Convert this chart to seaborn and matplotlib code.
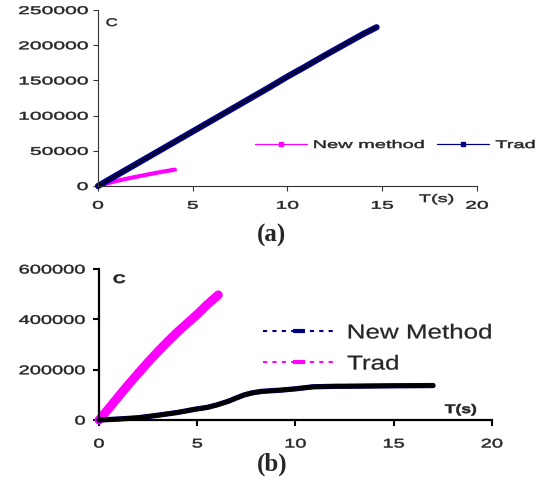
import numpy as np
import matplotlib
matplotlib.use('Agg')
import matplotlib.pyplot as plt
import matplotlib.patheffects as pe
from matplotlib.lines import Line2D
from matplotlib.transforms import Affine2D
import seaborn as sns

# (a) podaci
t_a_new = [0, 0.5, 1, 1.5, 2, 2.5, 3, 3.5, 4.06]
c_a_new = [0, 3800, 7300, 10300, 13000, 15700, 18300, 20800, 23200]
t_a_trad = [0, 1, 2, 3, 4, 5, 6, 7, 8, 9, 10, 11, 12, 13, 14, 14.7]
c_a_trad = [0, 15500, 31000, 46500, 62000, 77500, 93000, 108500, 124000,
            139500, 155500, 170500, 186000, 201000, 216000, 225500]

# (b) podaci
t_b_new = [0, 1, 2, 2.3, 3, 4, 4.9, 5.5, 6, 6.6, 7, 7.4, 7.8, 8.3, 9.3, 10,
           10.9, 12, 12.9, 15, 17]
c_b_new = [0, 4000, 9000, 12000, 19000, 30000, 43000, 50000, 60000, 75000,
           88000, 100000, 108000, 114000, 119000, 124000, 132000, 134000,
           134500, 136000, 137000]
t_b_trad = [0, 0.5, 1, 1.5, 2, 2.5, 3, 3.5, 4, 4.5, 5, 5.5, 6.07]
c_b_trad = [0, 46000, 94000, 141000, 186000, 230000, 272000, 312000, 350000,
            385000, 420000, 458000, 497000]

x_ticks = [0, 5, 10, 15, 20]
y_ticks_a = [0, 50000, 100000, 150000, 200000, 250000]
y_ticks_b = [0, 200000, 400000, 600000]

MAGENTA = '#FF00FF'
NAVY = '#000080'


class Wide(pe.AbstractPathEffect):
    """Horizontally stretched text (the original figure has wide glyphs)."""
    def __init__(self, sx, anchor='left', stroke=0.35):
        super().__init__()
        self.sx = sx
        self.anchor = anchor
        self.stroke = stroke

    def draw_path(self, renderer, gc, tpath, affine, rgbFace=None):
        ext = tpath.get_extents()
        x0 = {'left': ext.x0, 'right': ext.x1,
              'center': (ext.x0 + ext.x1) / 2}[self.anchor]
        t = Affine2D().translate(-x0, 0).scale(self.sx, 1).translate(x0, 0) + affine
        gc0 = renderer.new_gc()
        gc0.copy_properties(gc)
        gc0.set_linewidth(self.stroke)
        gc0.set_foreground(rgbFace)
        renderer.draw_path(gc0, tpath, t, rgbFace)
        gc0.restore()


sns.set_style('ticks')
plt.rcParams['font.family'] = ['Liberation Sans', 'DejaVu Sans']

fig = plt.figure(figsize=(5.41, 4.81), dpi=100)
ax1 = fig.add_axes([0.1811, 0.6112, 0.7006, 0.3659])
ax2 = fig.add_axes([0.1830, 0.1247, 0.7264, 0.3139])

# ---- (a) ----
sns.lineplot(x=t_a_new, y=c_a_new, ax=ax1, color=MAGENTA, lw=3,
             legend=False, clip_on=False)
sns.lineplot(x=t_a_trad, y=c_a_trad, ax=ax1, color='black', lw=1.1,
             legend=False, clip_on=False,
             path_effects=[pe.Stroke(linewidth=4.5, foreground=NAVY), pe.Normal()])
ax1.set_xlim(0, 20)
ax1.set_ylim(0, 250000)
ax1.set_xticks(x_ticks)
ax1.set_xticklabels([str(v) for v in x_ticks])
ax1.set_yticks(y_ticks_a)
ax1.set_yticklabels([str(v) for v in y_ticks_a])
ax1.tick_params(labelsize=8, length=3.6, width=0.8, color='#333333')
ax1.tick_params(axis='y', pad=3.6)
ax1.tick_params(axis='x', pad=7)
for s in ['left', 'bottom']:
    ax1.spines[s].set_linewidth(0.8)
    ax1.spines[s].set_color('#333333')
sns.despine(ax=ax1)
for lbl in ax1.get_yticklabels():
    lbl.set_path_effects([Wide(1.9, 'right')])
for lbl in ax1.get_xticklabels():
    lbl.set_path_effects([Wide(1.9, 'center')])
ax1.text(0.021, 0.926, 'C', transform=ax1.transAxes, fontsize=8,
         va='center', ha='left', path_effects=[Wide(1.5)])
ax1.text(0.847, -0.074, 'T(s)', transform=ax1.transAxes, fontsize=8,
         va='center', ha='left', path_effects=[Wide(1.8)])

h_a = [Line2D([], [], color=MAGENTA, lw=0.9, marker='s', markersize=2.5),
       Line2D([], [], color=NAVY, lw=0.9, marker='s', markersize=2.5)]
leg1 = ax1.legend(h_a, ['New method', 'Trad'], ncol=2, fontsize=8,
                  frameon=False, loc='center left',
                  bbox_to_anchor=(255 / 541, 1 - 146 / 481),
                  bbox_transform=fig.transFigure, borderpad=0, borderaxespad=0,
                  handlelength=4.7, handletextpad=0.55, columnspacing=5.5)
for txt in leg1.get_texts():
    txt.set_path_effects([Wide(1.8)])

# ---- (b) ----
sns.lineplot(x=t_b_trad, y=c_b_trad, ax=ax2, color=MAGENTA, lw=6.5,
             legend=False, clip_on=False)
sns.lineplot(x=t_b_new, y=c_b_new, ax=ax2, color='black', lw=3.2,
             legend=False, clip_on=False,
             path_effects=[pe.Stroke(linewidth=3.8, foreground=NAVY), pe.Normal()])
ax2.set_xlim(0, 20)
ax2.set_ylim(0, 600000)
ax2.set_xticks(x_ticks)
ax2.set_xticklabels([str(v) for v in x_ticks])
ax2.set_yticks(y_ticks_b)
ax2.set_yticklabels([str(v) for v in y_ticks_b])
ax2.tick_params(labelsize=9, length=4.3, width=1.5, color='black')
ax2.tick_params(axis='y', pad=5.5)
ax2.tick_params(axis='x', pad=9)
for s in ['left', 'bottom']:
    ax2.spines[s].set_linewidth(1.6)
    ax2.spines[s].set_color('black')
sns.despine(ax=ax2)
for lbl in ax2.get_yticklabels():
    lbl.set_path_effects([Wide(1.6, 'right')])
for lbl in ax2.get_xticklabels():
    lbl.set_path_effects([Wide(1.6, 'center')])
ax2.text(0.036, 0.927, 'C', transform=ax2.transAxes, fontsize=9,
         fontweight='bold', va='center', ha='left', path_effects=[Wide(1.4)])
ax2.text(0.880, 0.066, 'T(s)', transform=ax2.transAxes, fontsize=9,
         fontweight='bold', va='center', ha='left', path_effects=[Wide(1.4)])

h_b = [Line2D([], [], color=NAVY, lw=1.5, ls=(0, (2, 2.5)), marker='_',
              markersize=8, markeredgewidth=3),
       Line2D([], [], color=MAGENTA, lw=1.5, ls=(0, (2, 2.5)), marker='_',
              markersize=8, markeredgewidth=3)]
leg2 = ax2.legend(h_b, ['New Method', 'Trad'], fontsize=14.5, frameon=False,
                  loc='center left', bbox_to_anchor=(263 / 541, 1 - 349.5 / 481),
                  bbox_transform=fig.transFigure, borderpad=0, borderaxespad=0,
                  handlelength=3.58, handletextpad=0.6, labelspacing=0.6)
for txt in leg2.get_texts():
    txt.set_path_effects([Wide(1.29, stroke=0.2)])

# oznake panela
fig.text(271 / 541, 1 - 235 / 481, '(a)', ha='center', va='center',
         fontsize=18, fontweight='bold', family='Liberation Serif')
fig.text(272 / 541, 1 - 464 / 481, '(b)', ha='center', va='center',
         fontsize=18, fontweight='bold', family='Liberation Serif')

fig.savefig('out.png', dpi=100)
